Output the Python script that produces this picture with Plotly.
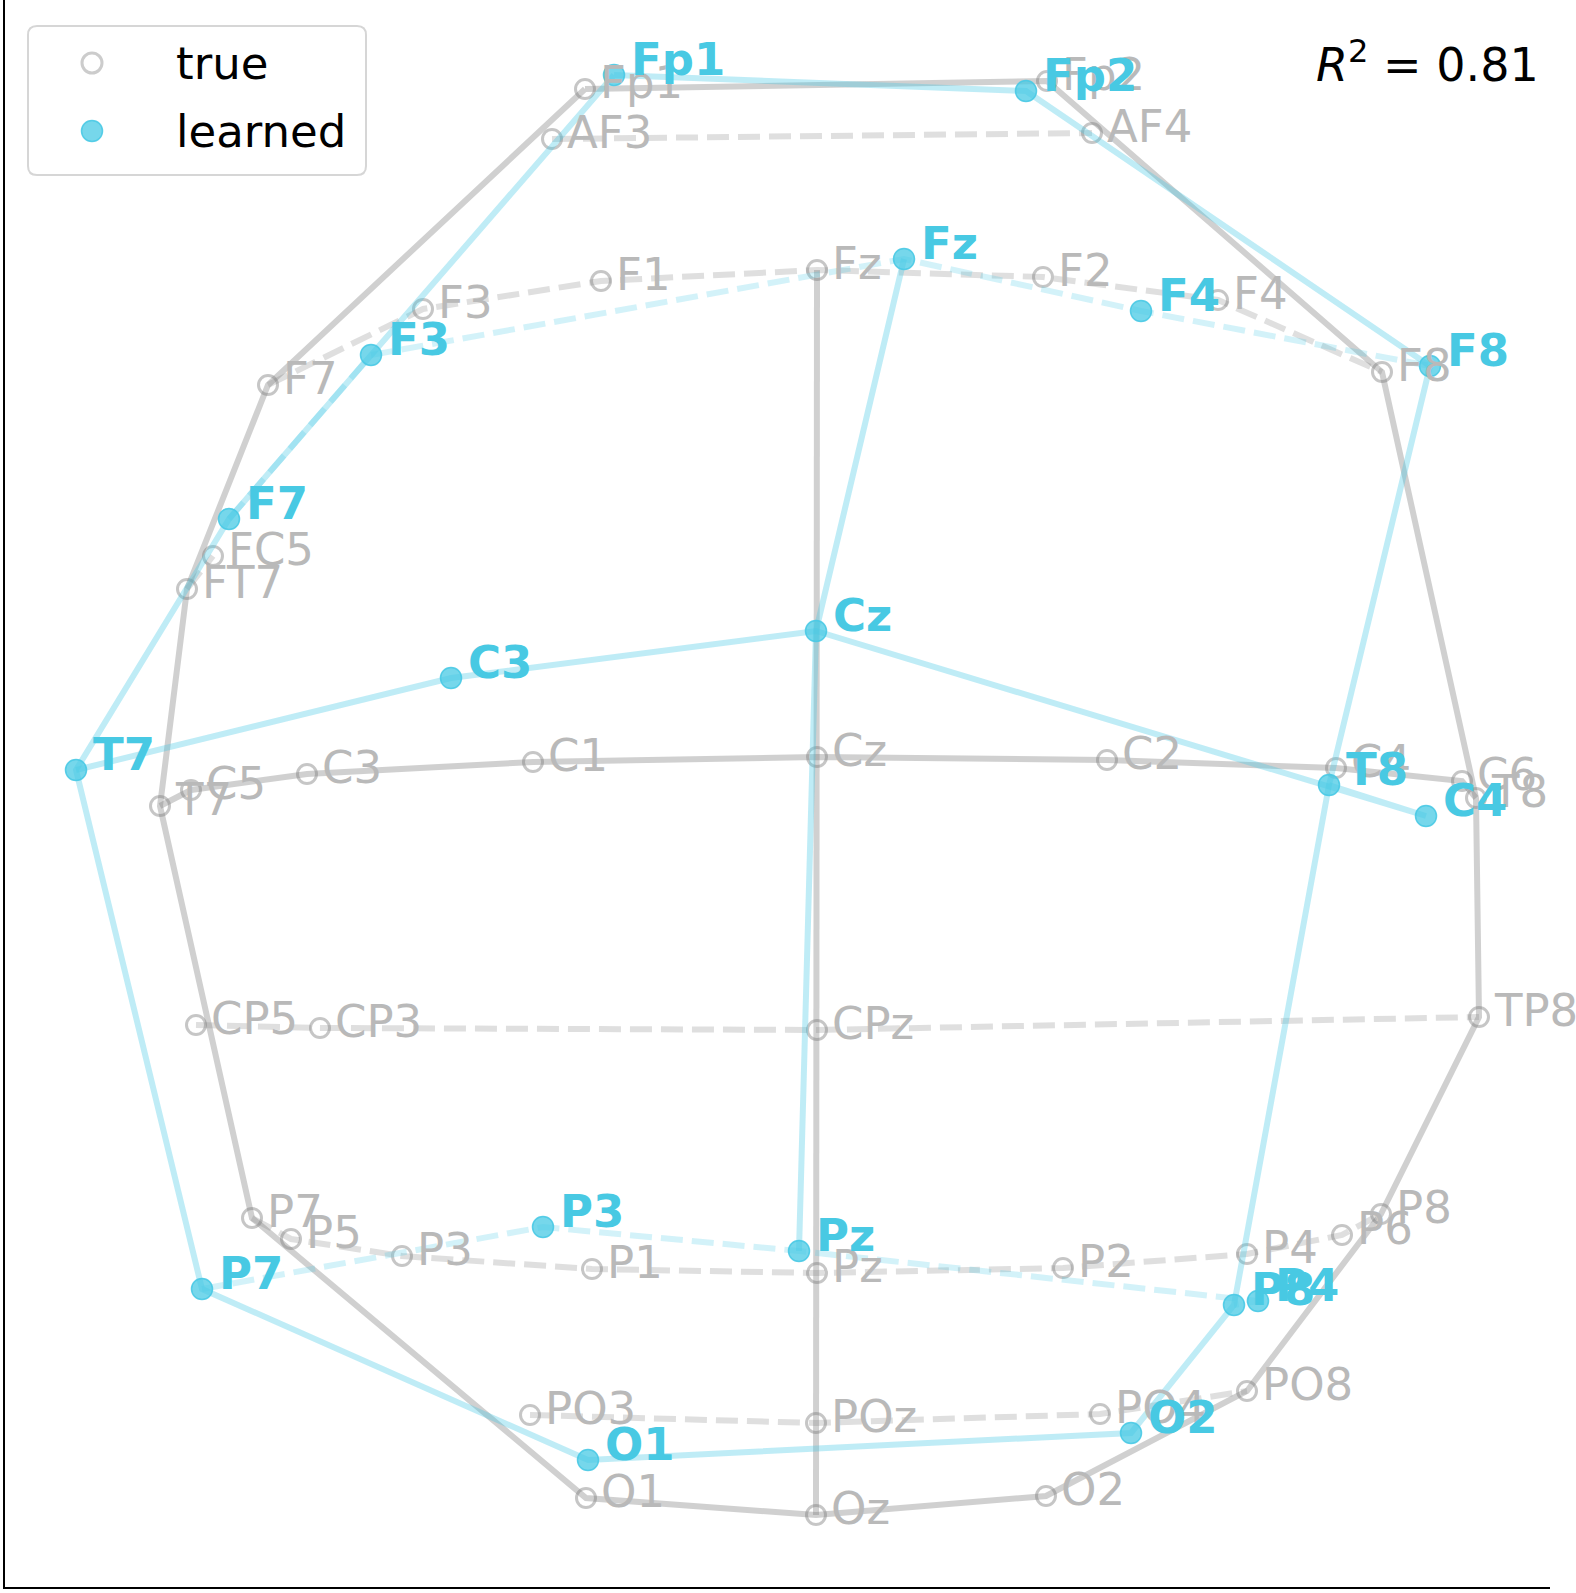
import plotly.graph_objects as go

FONT = "DejaVu Sans"
W, H = 1576, 1593
MARGIN = dict(l=5, r=26, t=0, b=6)
FS = 45

GRAY_LINE = "rgba(128,128,128,0.37)"
GRAY_DASH = "rgba(128,128,128,0.25)"
GRAY_MARK = "rgba(128,128,128,0.45)"
GRAY_TEXT = "#b9b9b9"
BLUE = "#48c9e3"
BLUE_LINE = "rgba(72,201,228,0.35)"
BLUE_DASH = "rgba(72,201,228,0.24)"
BLUE_FILL = "rgba(72,201,228,0.75)"

# true electrode positions (head plane, arbitrary units)
TRUE_NAMES = ["Fp1", "Fp2", "AF3", "AF4", "F7", "F3", "F1", "Fz", "F2", "F4", "F8",
              "FC5", "FT7", "T7", "C5", "C3", "C1", "Cz", "C2", "C4", "C6", "T8",
              "CP5", "CP3", "CPz", "TP8", "P7", "P5", "P3", "P1", "Pz", "P2", "P4",
              "P6", "P8", "PO3", "POz", "PO4", "PO8", "O1", "Oz", "O2"]
TRUE_X = [-2.32, 2.30, -2.65, 2.75, -5.49, -3.94, -2.16, 0.00, 2.26, 4.01, 5.65,
          -6.04, -6.30, -6.57, -6.26, -5.10, -2.84, 0.00, 2.90, 5.19, 6.45, 6.59,
          -6.21, -4.97, 0.00, 6.62, -5.65, -5.26, -4.15, -2.25, 0.00, 2.46, 4.30,
          5.25, 5.64, -2.87, -0.01, 2.83, 4.30, -2.31, -0.01, 2.29]
TRUE_Y = [6.68, 6.76, 6.18, 6.24, 3.72, 4.48, 4.76, 4.87, 4.80, 4.57, 3.85,
          2.01, 1.68, -0.49, -0.33, -0.17, -0.05, 0.00, -0.03, -0.11, -0.24, -0.41,
          -2.68, -2.71, -2.73, -2.60, -4.61, -4.82, -4.99, -5.12, -5.16, -5.11, -4.97,
          -4.78, -4.57, -6.58, -6.66, -6.57, -6.34, -7.41, -7.58, -7.39]

# learned electrode positions
LEARNED_NAMES = ["Fp1", "Fp2", "F7", "F3", "Fz", "F4", "F8", "T7", "C3", "Cz",
                 "C4", "T8", "P7", "P3", "Pz", "P4", "P8", "O1", "O2"]
LEARNED_X = [-2.03, 2.09, -5.88, -4.46, 0.87, 3.24, 6.13, -7.41, -3.66, -0.01,
             6.09, 5.12, -6.15, -2.74, -0.18, 4.41, 4.17, -2.29, 3.14]
LEARNED_Y = [6.82, 6.66, 2.38, 4.02, 4.98, 4.46, 3.91, -0.13, 0.79, 1.26,
             -0.59, -0.28, -5.32, -4.70, -4.94, -5.44, -5.48, -7.03, -6.76]

R2 = 0.81

TRUE_SOLID = [
    ["Fp1", "Fp2", "F8", "T8", "TP8", "P8", "PO8", "O2", "Oz", "O1", "P7", "T7", "FT7", "F7", "Fp1"],
    ["Fz", "Cz", "CPz", "Pz", "POz", "Oz"],
    ["T7", "C5", "C3", "C1", "Cz", "C2", "C4", "C6", "T8"],
]
TRUE_DASHED = [
    ["AF3", "AF4"],
    ["F7", "F3", "F1", "Fz", "F2", "F4", "F8"],
    ["FT7", "FC5"],
    ["CP5", "CP3", "CPz", "TP8"],
    ["P7", "P5", "P3", "P1", "Pz", "P2", "P4", "P6", "P8"],
    ["PO3", "POz", "PO4", "PO8"],
]
LEARNED_SOLID = [
    ["Fp1", "Fp2", "F8", "T8", "P8", "O2", "O1", "P7", "T7", "F7", "Fp1"],
    ["Fz", "Cz", "Pz"],
    ["T7", "C3", "Cz", "C4", "T8"],
]
LEARNED_DASHED = [
    ["F7", "F3", "Fz", "F4", "F8"],
    ["P7", "P3", "Pz", "P4", "P8"],
]

PLOT_W = W - MARGIN["l"] - MARGIN["r"]
PLOT_H = H - MARGIN["t"] - MARGIN["b"]


def px_x(px):
    return (px - MARGIN["l"]) / PLOT_W


def px_y(py):
    return 1 - (py - MARGIN["t"]) / PLOT_H


def chain_trace(names, xs, ys, chain, color, dash):
    lookup = {n: (x, y) for n, x, y in zip(names, xs, ys)}
    return go.Scatter(
        x=[lookup[n][0] for n in chain],
        y=[lookup[n][1] for n in chain],
        mode="lines",
        line=dict(color=color, width=6, dash=dash),
        hoverinfo="skip",
        showlegend=False,
    )


fig = go.Figure()

for chain in TRUE_SOLID:
    fig.add_trace(chain_trace(TRUE_NAMES, TRUE_X, TRUE_Y, chain, GRAY_LINE, "solid"))
for chain in TRUE_DASHED:
    fig.add_trace(chain_trace(TRUE_NAMES, TRUE_X, TRUE_Y, chain, GRAY_DASH, "22px,9px"))

fig.add_trace(go.Scatter(
    x=TRUE_X, y=TRUE_Y, text=TRUE_NAMES, mode="markers", name="true",
    marker=dict(symbol="circle-open", size=19, color=GRAY_MARK, line=dict(width=3)),
    showlegend=False,
))

for chain in LEARNED_SOLID:
    fig.add_trace(chain_trace(LEARNED_NAMES, LEARNED_X, LEARNED_Y, chain, BLUE_LINE, "solid"))
for chain in LEARNED_DASHED:
    fig.add_trace(chain_trace(LEARNED_NAMES, LEARNED_X, LEARNED_Y, chain, BLUE_DASH, "22px,9px"))

fig.add_trace(go.Scatter(
    x=LEARNED_X, y=LEARNED_Y, text=LEARNED_NAMES, mode="markers", name="learned",
    marker=dict(symbol="circle", size=21, color=BLUE_FILL,
                line=dict(width=1.5, color="rgba(72,201,228,0.9)")),
    showlegend=False,
))

annotations = []
for n, x, y in zip(TRUE_NAMES, TRUE_X, TRUE_Y):
    annotations.append(dict(
        x=x, y=y, text=n, showarrow=False, xanchor="left", yanchor="middle",
        xshift=13, yshift=7, font=dict(family=FONT, size=FS, color=GRAY_TEXT),
    ))
for n, x, y in zip(LEARNED_NAMES, LEARNED_X, LEARNED_Y):
    annotations.append(dict(
        x=x, y=y, text=f"<b>{n}</b>", showarrow=False, xanchor="left", yanchor="middle",
        xshift=15, yshift=16, font=dict(family=FONT, size=FS, color=BLUE),
    ))

# legend (drawn by hand to match the boxed matplotlib legend)
annotations.append(dict(
    x=px_x(174), y=px_y(63), xref="paper", yref="paper", text="true", showarrow=False,
    xanchor="left", yanchor="middle", font=dict(family=FONT, size=FS, color="black"),
))
annotations.append(dict(
    x=px_x(174), y=px_y(131), xref="paper", yref="paper", text="learned", showarrow=False,
    xanchor="left", yanchor="middle", font=dict(family=FONT, size=FS, color="black"),
))
annotations.append(dict(
    x=px_x(1541), y=px_y(62), xref="paper", yref="paper",
    text=f"<i>R</i><sup>2</sup> = {R2:.2f}", showarrow=False,
    xanchor="right", yanchor="middle", font=dict(family=FONT, size=46, color="black"),
))


def rounded_rect(x0, y0, x1, y1, r):
    ax0, ax1 = px_x(x0), px_x(x1)
    ay0, ay1 = px_y(y0), px_y(y1)
    rx, ry = r / PLOT_W, r / PLOT_H
    return (f"M {ax0 + rx},{ay0} L {ax1 - rx},{ay0} Q {ax1},{ay0} {ax1},{ay0 - ry} "
            f"L {ax1},{ay1 + ry} Q {ax1},{ay1} {ax1 - rx},{ay1} "
            f"L {ax0 + rx},{ay1} Q {ax0},{ay1} {ax0},{ay1 + ry} "
            f"L {ax0},{ay0 - ry} Q {ax0},{ay0} {ax0 + rx},{ay0} Z")


shapes = [
    dict(type="path", xref="paper", yref="paper", path=rounded_rect(28, 26, 366, 175, 9),
         line=dict(color="#d6d6d6", width=2), fillcolor="rgba(255,255,255,0.8)"),
    dict(type="circle", xref="paper", yref="paper", xsizemode="pixel", ysizemode="pixel",
         xanchor=px_x(92), yanchor=px_y(63), x0=-10, x1=10, y0=-10, y1=10,
         line=dict(color="rgba(128,128,128,0.4)", width=3), fillcolor="rgba(0,0,0,0)"),
    dict(type="circle", xref="paper", yref="paper", xsizemode="pixel", ysizemode="pixel",
         xanchor=px_x(92), yanchor=px_y(131), x0=-10.5, x1=10.5, y0=-10.5, y1=10.5,
         line=dict(color="rgba(72,201,228,0.9)", width=1.5), fillcolor=BLUE_FILL),
]

fig.update_layout(
    width=W, height=H, margin=MARGIN,
    paper_bgcolor="white", plot_bgcolor="white",
    font=dict(family=FONT, size=FS, color="black"),
    annotations=annotations, shapes=shapes, showlegend=False,
)
fig.update_xaxes(range=[-8.12, 7.33], showgrid=False, zeroline=False, showticklabels=False,
                 ticks="", showline=True, linecolor="black", linewidth=2)
fig.update_yaxes(range=[-8.30, 7.57], showgrid=False, zeroline=False, showticklabels=False,
                 ticks="", showline=True, linecolor="black", linewidth=2)

# drop the browser's default body margin so the figure sits at the page origin
fig.write_html("out.html", config={"displayModeBar": False},
               post_script="document.body.style.margin='0';")
